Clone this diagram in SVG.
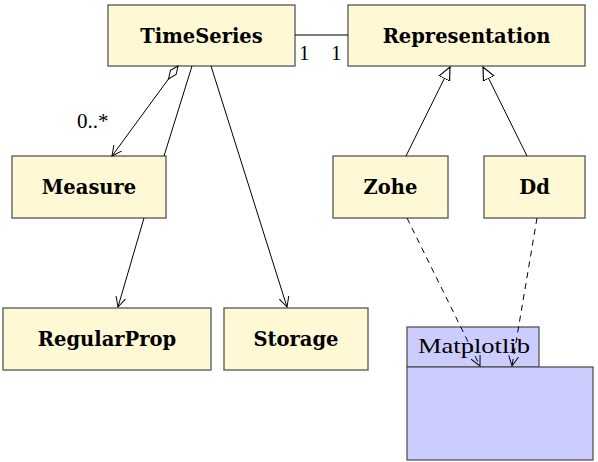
<svg xmlns="http://www.w3.org/2000/svg" width="598" height="462" viewBox="0 0 598 462">
<style>
.cls rect{fill:#fef8d4;stroke:#555;stroke-width:1.3}
.cls text{font-family:"DejaVu Serif","Liberation Serif",serif;font-weight:bold;font-size:19.5px;text-anchor:middle;fill:#000}
.lbl{font-family:"Liberation Serif","DejaVu Serif",serif;font-size:21px;fill:#000}
.pkg rect{fill:#ccccff;stroke:#555;stroke-width:1.3}
.c line,.c path{stroke:#000;stroke-width:1;fill:none}
.dash{stroke-dasharray:6,5}
</style>
<defs>
<marker id="open" markerWidth="12" markerHeight="12" refX="10" refY="5" orient="auto" markerUnits="userSpaceOnUse" viewBox="0 0 12 10">
<path d="M0,0 L10,5 L0,10" fill="none" stroke="#000" stroke-width="1"/>
</marker>
<marker id="tri" markerWidth="14" markerHeight="14" refX="11" refY="6" orient="auto" markerUnits="userSpaceOnUse" viewBox="0 0 12 12">
<path d="M0,1 L11,6 L0,11 Z" fill="#fff" stroke="#000" stroke-width="1"/>
</marker>
<marker id="dia" markerWidth="20" markerHeight="12" refX="1" refY="5" orient="auto" markerUnits="userSpaceOnUse" viewBox="0 0 20 10">
<path d="M1,5 L9,1.5 L17,5 L9,8.5 Z" fill="#fff" stroke="#000" stroke-width="1"/>
</marker>
</defs>
<g id="TimeSeries" class="cls"><rect x="108" y="5" width="187" height="61"/><text x="201.5" y="43">TimeSeries</text></g>
<g id="Representation" class="cls"><rect x="348" y="5" width="237" height="61"/><text x="466.5" y="43">Representation</text></g>
<g id="Measure" class="cls"><rect x="12" y="156" width="154" height="62"/><text x="89" y="194">Measure</text></g>
<g id="Zohe" class="cls"><rect x="333" y="156" width="115" height="62"/><text x="390.5" y="194">Zohe</text></g>
<g id="Dd" class="cls"><rect x="484" y="156" width="101" height="62"/><text x="534.5" y="194">Dd</text></g>
<g id="RegularProp" class="cls"><rect x="3" y="308" width="208" height="62"/><text x="107" y="346">RegularProp</text></g>
<g id="Storage" class="cls"><rect x="224" y="308" width="144" height="62"/><text x="296" y="346">Storage</text></g>
<g id="Matplotlib" class="pkg"><rect x="407" y="327" width="132" height="40"/><rect x="407" y="367" width="186" height="93"/><text class="lbl" x="418" y="353" textLength="112" lengthAdjust="spacingAndGlyphs">Matplotlib</text></g>
<g class="c">
<line x1="295" y1="35" x2="348" y2="35"/>
<line x1="178" y1="66" x2="112" y2="156" marker-start="url(#dia)" marker-end="url(#open)"/>
<line x1="192" y1="66" x2="164" y2="156"/>
<line x1="211" y1="66" x2="287" y2="307" marker-end="url(#open)"/>
<line x1="144" y1="218" x2="118" y2="307" marker-end="url(#open)"/>
<line x1="406" y1="156" x2="450" y2="67" marker-end="url(#tri)"/>
<line x1="527" y1="156" x2="483" y2="67" marker-end="url(#tri)"/>
<line class="dash" x1="407" y1="218" x2="480" y2="366" marker-end="url(#open)"/>
<line class="dash" x1="537" y1="218" x2="512" y2="366" marker-end="url(#open)"/>
</g>
<text class="lbl" x="299" y="60">1</text>
<text class="lbl" x="331" y="60">1</text>
<text class="lbl" x="77" y="128">0..*</text>
</svg>
